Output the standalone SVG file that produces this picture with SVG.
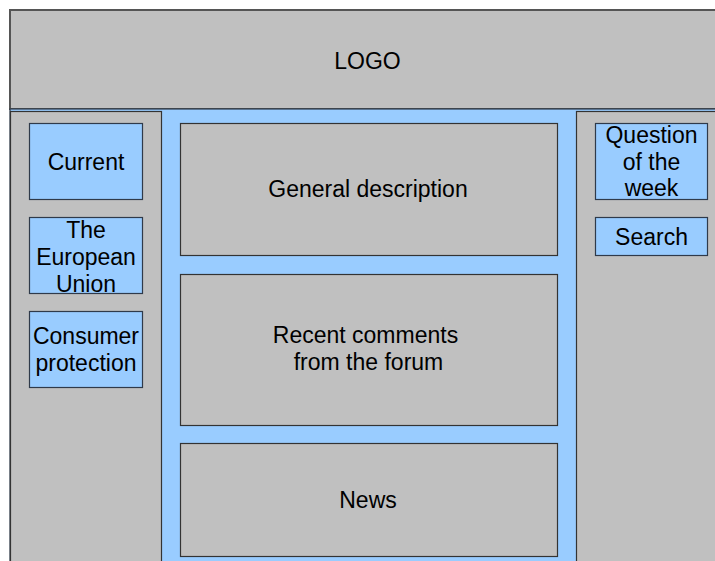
<svg xmlns="http://www.w3.org/2000/svg" width="715" height="561" viewBox="0 0 715 561">
  <style>
    .panel { fill: #c0c0c0; stroke: #333333; stroke-width: 1.2; }
    .blue { fill: #99ccff; stroke: #2f3a4a; stroke-width: 1.2; }
    .head { fill: #c0c0c0; stroke: #555555; stroke-width: 2; }
    text { font-family: "Liberation Sans", Arial, sans-serif; font-size: 23px; fill: #000000; text-anchor: middle; }
  </style>
  <rect width="715" height="561" fill="#ffffff"/>

  <!-- header -->
  <g id="header">
    <rect class="head" x="10" y="10" width="720" height="99"/>
    <text x="367.5" y="69">LOGO</text>
  </g>

  <!-- page body (blue background strip) -->
  <g id="body">
    <rect class="blue" x="10" y="109" width="720" height="470"/>
  </g>

  <!-- left navigation column -->
  <g id="left-column">
    <rect class="panel" x="10.5" y="111.5" width="151" height="470"/>
  </g>
  <g id="nav-current">
    <rect class="blue" x="29.5" y="123.5" width="113" height="76"/>
    <text x="86" y="170">Current</text>
  </g>
  <g id="nav-eu">
    <rect class="blue" x="29.5" y="217.5" width="113" height="76"/>
    <text x="86" y="238">The</text>
    <text x="86" y="265">European</text>
    <text x="86" y="291.5">Union</text>
  </g>
  <g id="nav-consumer">
    <rect class="blue" x="29.5" y="311.5" width="113" height="76"/>
    <text x="86" y="344">Consumer</text>
    <text x="86" y="371">protection</text>
  </g>

  <!-- main content column -->
  <g id="general-description">
    <rect class="panel" x="180.5" y="123.5" width="377" height="132"/>
    <text x="368" y="197">General description</text>
  </g>
  <g id="recent-comments">
    <rect class="panel" x="180.5" y="274.5" width="377" height="151"/>
    <text x="365.5" y="343">Recent comments</text>
    <text x="368.5" y="370">from the forum</text>
  </g>
  <g id="news">
    <rect class="panel" x="180.5" y="443.5" width="377" height="113"/>
    <text x="368" y="508">News</text>
  </g>

  <!-- right column -->
  <g id="right-column">
    <rect class="panel" x="576.5" y="111.5" width="160" height="470"/>
  </g>
  <g id="question-of-week">
    <rect class="blue" x="595.5" y="123.5" width="112" height="76"/>
    <text x="651.5" y="143">Question</text>
    <text x="651.5" y="170">of the</text>
    <text x="651.5" y="196">week</text>
  </g>
  <g id="search">
    <rect class="blue" x="595.5" y="217.5" width="112" height="38"/>
    <text x="651.5" y="245">Search</text>
  </g>

  <g id="connectors"/>
</svg>
